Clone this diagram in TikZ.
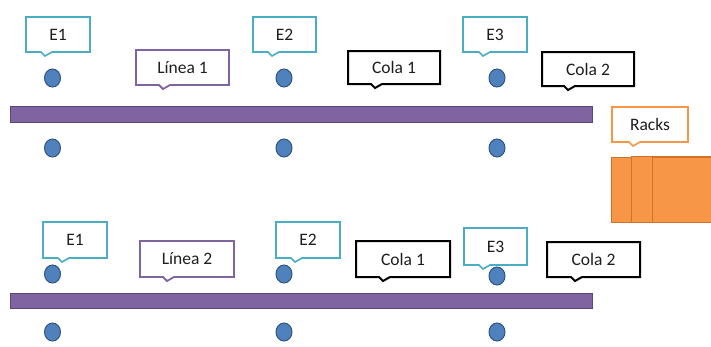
\documentclass[tikz,border=0pt]{standalone}
\usepackage{fontspec}
\setmainfont{Carlito}
\usetikzlibrary{shapes.geometric}
\definecolor{cyanb}{RGB}{75,172,198}
\definecolor{purp}{RGB}{128,100,162}
\definecolor{purpd}{RGB}{90,70,120}
\definecolor{orng}{RGB}{247,150,70}
\definecolor{orngd}{RGB}{205,115,45}
\definecolor{dotf}{RGB}{79,129,189}
\definecolor{dotd}{RGB}{50,85,130}
\definecolor{txt}{RGB}{30,30,30}
\tikzset{
  dotnode/.style={ellipse,draw=dotd,fill=dotf,line width=1pt,minimum width=16pt,minimum height=18pt,inner sep=0pt},
  bar/.style={draw=purpd,fill=purp,line width=1pt},
  lbl/.style={text=txt,font=\fontsize{17.5}{20}\selectfont,inner sep=0pt},
  cyanc/.style={draw=cyanb,line width=1.6pt,fill=white},
  purpc/.style={draw=purp,line width=1.8pt,fill=white},
  blackc/.style={draw=black,line width=2pt,fill=white},
  orngc/.style={draw=orng,line width=1.6pt,fill=white},
  rack/.style={draw=orngd,fill=orng,line width=1pt}
}
% #1 style, #2 x1, #3 y1, #4 x2, #5 y2, #6 pointer x, #7 name, #8 text
\newcommand\callbox[8]{%
  \draw[#1] (#2,#3) -- (#4,#3) -- (#4,#5) -- (#6+7,#5) -- (#6,#5+4) -- (#6-4,#5) -- (#2,#5) -- cycle;
  \node[lbl] (#7) at ({(#2+#4)/2},{(#3+#5)/2}) {#8};
}
\begin{document}
\begin{tikzpicture}[x=1pt,y=-1pt]
\useasboundingbox (0,0) rectangle (711,346);
% racks
\draw[rack] (611,157) rectangle (716,222);
\draw[rack] (631,156) rectangle (716,222);
\draw[rack] (652,157) rectangle (716,222);
% top section
\callbox{cyanc}{26}{17}{90}{52}{45}{e1a}{E1}
\callbox{cyanc}{253}{17}{316}{52}{272}{e2a}{E2}
\callbox{cyanc}{463}{17}{527}{52}{483}{e3a}{E3}
\callbox{purpc}{136}{50}{229}{85}{163}{l1}{Línea 1}
\callbox{blackc}{348}{51}{440}{84}{375}{c1a}{Cola 1}
\callbox{blackc}{542}{52}{634}{86}{568}{c2a}{Cola 2}
\callbox{orngc}{612}{107}{688}{142}{633}{rk}{Racks}
\node[dotnode] (d1) at (52.5,78) {};
\node[dotnode] (d2) at (284,78) {};
\node[dotnode] (d3) at (497,78) {};
\draw[bar] (10,106) rectangle (592,122);
\node[dotnode] (d4) at (52.5,148) {};
\node[dotnode] (d5) at (284,148) {};
\node[dotnode] (d6) at (497,148) {};
% bottom section
\callbox{cyanc}{43}{222}{107}{258}{62}{e1b}{E1}
\callbox{cyanc}{276}{222}{340}{258}{295}{e2b}{E2}
\callbox{cyanc}{464}{228}{527}{265}{483}{e3b}{E3}
\callbox{purpc}{140}{241}{234}{277}{167}{l2}{Línea 2}
\callbox{blackc}{356}{241}{450}{277}{383}{c1b}{Cola 1}
\callbox{blackc}{547}{242}{640}{277}{575}{c2b}{Cola 2}
\node[dotnode] (d7) at (52.5,274) {};
\node[dotnode] (d8) at (284,274) {};
\node[dotnode] (d9) at (497,276) {};
\draw[bar] (10,293) rectangle (592,308);
\node[dotnode] (d10) at (52.5,332) {};
\node[dotnode] (d11) at (284,332) {};
\node[dotnode] (d12) at (497,332) {};
\end{tikzpicture}
\end{document}
